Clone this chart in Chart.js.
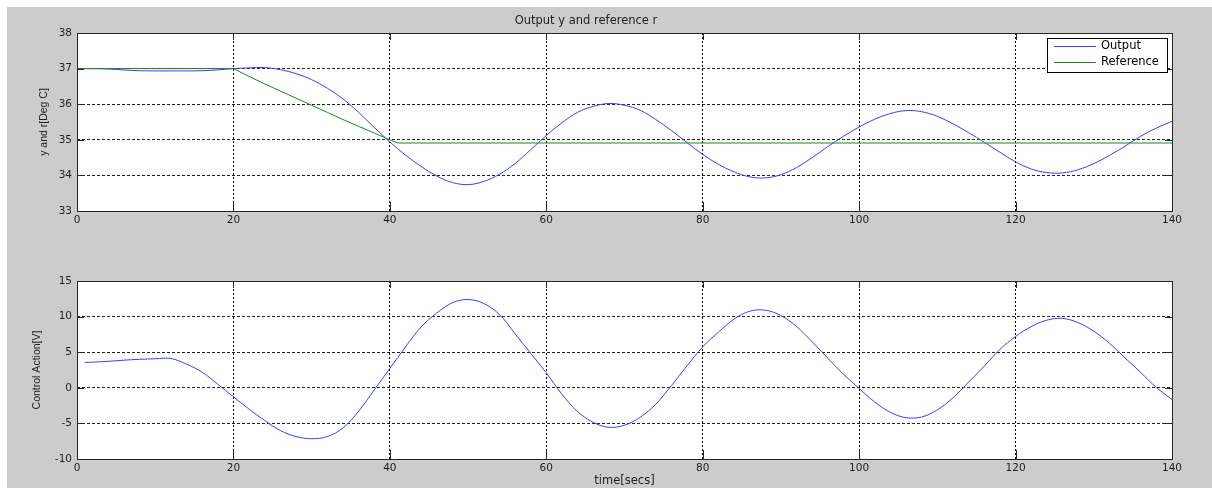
<!DOCTYPE html>
<html><head><meta charset="utf-8">
<script src="https://cdn.jsdelivr.net/npm/chart.js@4.4.0/dist/chart.umd.min.js"></script>
<style>
html,body{margin:0;padding:0;background:#fff;width:1212px;height:488px;overflow:hidden}
#bg{position:absolute;left:7px;top:7px;width:1205px;height:481px;background:#cccccc}
canvas{position:absolute;left:0}
#c1{top:0}
#c2{top:244px}
</style></head><body>
<div id="bg"></div>
<canvas id="c1" width="1212" height="244"></canvas>
<canvas id="c2" width="1212" height="244"></canvas>
<script>
// ---- data ----
const timeOutput = [0,2,4,6,8,10,12,14,16,18,20,22,24,26,28,30,32,34,36,38,40,42,44,46,48,50,52,54,56,58,60,62,64,66,68,70,72,74,76,78,80,82,84,86,88,90,92,94,96,98,100,102,104,106,108,110,112,114,116,118,120,122,124,126,128,130,132,134,136,138,140];
const outputValues = [37.0,37.0,36.99,36.96,36.94,36.935,36.935,36.935,36.94,36.965,37.0,37.02,37.03,36.97,36.86,36.69,36.45,36.15,35.77,35.35,34.94,34.57,34.25,33.98,33.80,33.74,33.83,34.03,34.33,34.72,35.12,35.48,35.77,35.94,36.02,35.97,35.83,35.57,35.26,34.92,34.59,34.31,34.10,33.96,33.93,34.02,34.22,34.50,34.81,35.10,35.36,35.58,35.74,35.82,35.79,35.66,35.45,35.20,34.93,34.65,34.38,34.18,34.08,34.07,34.16,34.33,34.56,34.82,35.10,35.33,35.52];
const timeReference = [0,20,22,24,26,28,30,32,34,36,38,40,41,140];
const referenceValues = [37,37,36.78,36.57,36.37,36.17,35.97,35.77,35.57,35.38,35.19,35.0,34.91,34.91];
const timeControl = [1,2,4,6,8,10,12,14,16,18,20,22,24,26,28,30,32,34,36,38,40,42,44,46,48,50,52,54,56,58,60,62,64,66,68,70,72,74,76,78,80,82,84,86,88,90,92,94,96,98,100,102,104,106,108,110,112,114,116,118,120,122,124,126,128,130,132,134,136,138,140];
const controlValues = [3.56,3.6,3.72,3.88,4.0,4.08,4.12,3.32,2.2,0.5,-1.26,-3.0,-4.6,-6.0,-6.85,-7.15,-6.85,-5.65,-3.3,-0.3,2.72,5.75,8.55,10.5,11.95,12.4,11.85,10.3,7.6,4.85,2.1,-0.9,-3.35,-4.85,-5.55,-5.25,-4.15,-2.3,0.3,3.1,5.75,7.8,9.65,10.75,10.9,10.15,8.6,6.45,4.15,1.9,-0.1,-2.0,-3.45,-4.2,-4.1,-3.1,-1.4,0.8,3.05,5.4,7.2,8.6,9.5,9.75,9.15,7.95,6.25,4.2,2.15,0.05,-1.64];
const xRange = [0, 140, 20];
const yRangeTop = [33, 38, 1];
const yRangeBottom = [-10, 15, 5];
const seriesNames = ['Output', 'Reference', 'Control Action'];
const texts = {title: 'Output y and reference r', yTop: 'y and r[Deg C]', yBottom: 'Control Action[V]', x: 'time[secs]'};

const pts = (xs, ys) => xs.map((x, i) => ({x: x, y: ys[i]}));

const TICK_FONT = {family: 'DejaVu Sans', size: 10.5};
const TEXT_FONT = {family: 'DejaVu Sans', size: 11.5, weight: 'normal'};
const YLAB_FONT = {family: 'Liberation Sans', size: 10.5};
const TEXT_COLOR = '#1e1e1e';

const framePlugin = {
  id: 'matlabFrame',
  beforeDraw(chart) {
    const {ctx, chartArea: a} = chart;
    ctx.save();
    ctx.fillStyle = '#ffffff';
    ctx.fillRect(a.left, a.top, a.right - a.left, a.bottom - a.top);
    ctx.restore();
  },
  afterDraw(chart) {
    const {ctx, chartArea: a} = chart;
    const xs = chart.scales.x, ys = chart.scales.y;
    ctx.save();
    ctx.strokeStyle = '#262626';
    ctx.lineWidth = 1;
    ctx.setLineDash([]);
    ctx.beginPath();
    xs.ticks.forEach(t => {
      const px = Math.round(xs.getPixelForValue(t.value)) + 0.5;
      ctx.moveTo(px, a.bottom); ctx.lineTo(px, a.bottom - 9);
      ctx.moveTo(px, a.top); ctx.lineTo(px, a.top + 7);
    });
    ys.ticks.forEach(t => {
      const py = Math.round(ys.getPixelForValue(t.value)) + 0.5;
      ctx.moveTo(a.left, py); ctx.lineTo(a.left + 7, py);
      ctx.moveTo(a.right, py); ctx.lineTo(a.right - 7, py);
    });
    ctx.stroke();
    ctx.strokeRect(Math.round(a.left) + 0.5, Math.round(a.top) + 0.5, Math.round(a.right - a.left), Math.round(a.bottom - a.top));
    ctx.restore();

    const lg = chart.options.plugins.matlabLegend;
    if (lg && lg.display) {
      const font = TEXT_FONT.size + 'px "' + TEXT_FONT.family + '"';
      ctx.save();
      ctx.font = font;
      const items = chart.data.datasets;
      let tw = 0;
      items.forEach(d => { tw = Math.max(tw, ctx.measureText(d.label).width); });
      const w = Math.round(tw + 62), h = 34;
      const right = Math.round(a.right) - 5, top = Math.round(a.top) + 5;
      const left = right - w;
      ctx.fillStyle = '#fff';
      ctx.fillRect(left, top, w, h);
      ctx.strokeStyle = '#000';
      ctx.lineWidth = 1;
      ctx.strokeRect(left + 0.5, top + 0.5, w, h);
      items.forEach((d, i) => {
        const y = top + 8.5 + i * 16;
        ctx.strokeStyle = d.borderColor;
        ctx.beginPath(); ctx.moveTo(left + 7, y); ctx.lineTo(left + 49, y); ctx.stroke();
        ctx.fillStyle = '#000';
        ctx.textBaseline = 'middle';
        ctx.textAlign = 'left';
        ctx.fillText(d.label, left + 54, y);
      });
      ctx.restore();
    }
  }
};

function scalesFor(yRange, xTitle, yTitle, xHeight, yTitlePad) {
  return {
    x: {
      type: 'linear', min: xRange[0], max: xRange[1],
      afterFit(s) { s.height = xHeight; },
      ticks: {stepSize: xRange[2], font: TICK_FONT, color: TEXT_COLOR, padding: 3, maxRotation: 0, autoSkip: false},
      grid: {color: '#000', lineWidth: 1, drawTicks: false},
      border: {display: false, dash: [2, 2]},
      title: xTitle ? {display: true, text: xTitle, font: TEXT_FONT, color: TEXT_COLOR, padding: {top: 0, bottom: 0}} : {display: false}
    },
    y: {
      type: 'linear', min: yRange[0], max: yRange[1],
      afterFit(s) { s.width = 77; },
      ticks: {stepSize: yRange[2], font: TICK_FONT, color: TEXT_COLOR, padding: 5},
      grid: {color: '#222', lineWidth: 1, drawTicks: false},
      border: {display: false, dash: [3, 2]},
      title: {display: true, text: yTitle, font: YLAB_FONT, color: TEXT_COLOR, padding: {top: yTitlePad, bottom: 0}}
    }
  };
}

new Chart(document.getElementById('c1'), {
  type: 'line',
  data: {
    datasets: [
      {label: seriesNames[0], data: pts(timeOutput, outputValues), borderColor: '#3c3cff', borderWidth: 1, pointRadius: 0, tension: 0.35, order: 1},
      {label: seriesNames[1], data: pts(timeReference, referenceValues), borderColor: '#1a8c1a', borderWidth: 1, pointRadius: 0, tension: 0, order: 0}
    ]
  },
  options: {
    responsive: false, animation: false, events: [],
    layout: {padding: {left: 0, right: 40, top: 0, bottom: 0}},
    scales: scalesFor(yRangeTop, null, texts.yTop, 33, 37.5),
    plugins: {
      legend: {display: false}, tooltip: {enabled: false},
      title: {display: true, text: texts.title, font: TEXT_FONT, color: TEXT_COLOR, padding: {top: 14.5, bottom: 4.7}},
      matlabLegend: {display: true}
    }
  },
  plugins: [framePlugin]
});

new Chart(document.getElementById('c2'), {
  type: 'line',
  data: {
    datasets: [
      {label: seriesNames[2], data: pts(timeControl, controlValues), borderColor: '#3c3cff', borderWidth: 1, pointRadius: 0, tension: 0.35}
    ]
  },
  options: {
    responsive: false, animation: false, events: [],
    layout: {padding: {left: 0, right: 40, top: 37, bottom: 0}},
    scales: scalesFor(yRangeBottom, texts.x, texts.yBottom, 29, 30.4),
    plugins: {
      legend: {display: false}, tooltip: {enabled: false}, title: {display: false},
      matlabLegend: {display: false}
    }
  },
  plugins: [framePlugin]
});
</script>
</body></html>
